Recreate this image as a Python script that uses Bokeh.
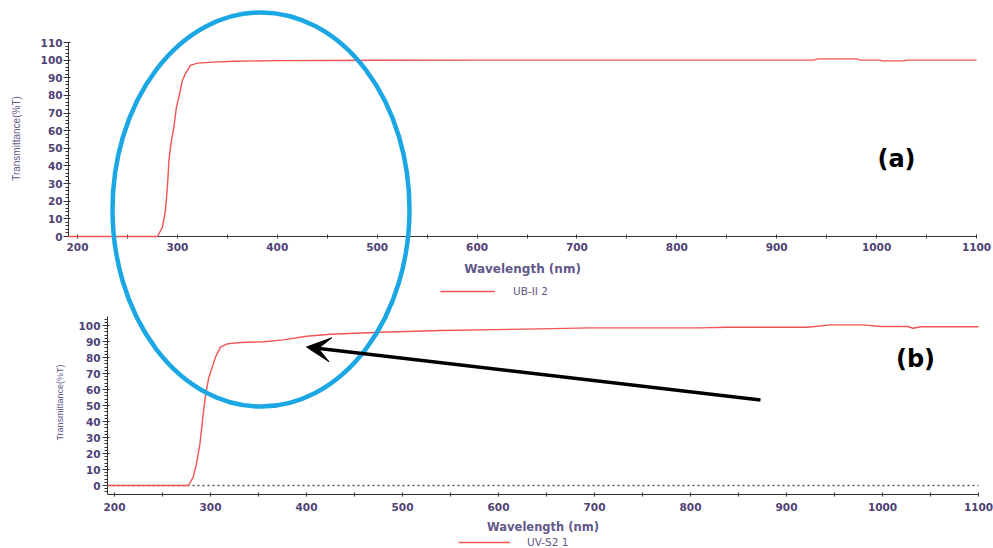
import math
from bokeh.plotting import figure
from bokeh.models import (Range1d, LinearAxis, FixedTicker, Legend, LegendItem,
                          Label, Arrow, VeeHead)
from bokeh.embed import file_html
from bokeh.resources import INLINE

# ---------------- data ----------------
series_a_name = "UB-II 2"
wavelength_a = [191, 280, 281, 285, 288, 290, 291.5, 294, 296.5, 299, 301.5, 305, 308,
                313, 320, 336, 356, 400, 450, 500, 600, 700, 800, 900, 937, 941, 980,
                984, 1003, 1006, 1027, 1030, 1100]
transmittance_a = [0, 0, 1, 5.3, 14.7, 28, 43, 54.4, 62, 73.3, 79, 88.5, 92.2,
                   97, 98.3, 98.9, 99.4, 99.7, 99.8, 99.9, 100, 100, 100, 100, 100, 100.7, 100.7,
                   100, 100, 99.6, 99.6, 100, 100]

series_b_name = "UV-S2 1"
wavelength_b = [192.7, 277, 282, 285.4, 289, 292, 295, 298.3, 301.8, 305.2, 310.4, 317.4,
                331, 355.5, 376, 400, 425, 477, 540, 643, 696, 810, 838, 922, 946, 980,
                998, 1026, 1032, 1040, 1100]
transmittance_b = [0, 0, 5.2, 13.5, 26, 42.7, 57.3, 67.7, 74, 80.2, 86.5, 88.5,
                   89.4, 89.8, 91, 93.3, 94.5, 95.8, 96.9, 97.9, 98.5, 98.5, 98.9, 98.9, 100.4, 100.4,
                   99.4, 99.4, 98.3, 99.2, 99.2]

x_major_ticks = [200, 300, 400, 500, 600, 700, 800, 900, 1000, 1100]
x_minor_ticks = [250, 350, 450, 550, 650, 750, 850, 950, 1050]
ya_major_ticks = [0, 10, 20, 30, 40, 50, 60, 70, 80, 90, 100, 110]
ya_minor_ticks = list(range(0, 111, 2))
yb_major_ticks = [0, 10, 20, 30, 40, 50, 60, 70, 80, 90, 100]
yb_minor_ticks = list(range(-4, 105, 2))
baseline_b = 0

x_title = "Wavelength (nm)"
y_title = "Transmittance(%T)"

# ---------------- layout (reference pixels) ----------------
W, H = 993, 548
PX0, PX1, PY0, PY1 = 0, W, H, 0  # canvas covers the reference picture 1:1


def rng(v0, p0, v1, p1, lo, hi):
    k = (v1 - v0) / (p1 - p0)
    return Range1d(v0 + (lo - p0) * k, v0 + (hi - p0) * k)


RED = "#f25454"
BLUE = "#1ba7e3"
TICK_COL = "#4f4275"
TITLE_COL = "#625889"
AXIS_COL = "#333333"

p = figure(width=W, height=H, output_backend="svg", toolbar_location=None, title=None,
           x_axis_type=None, y_axis_type=None, min_border=0,
           x_range=Range1d(PX0, PX1), y_range=Range1d(PY0, PY1))
p.outline_line_color = None

# panel (a): 200 nm at x=77, 1100 at 976; 0 %T at y=236, 110 at y=42
p.extra_x_ranges["xa"] = rng(200, 77, 1100, 976, PX0, PX1)
p.extra_y_ranges["ya"] = rng(0, 236, 110, 42, PY0, PY1)
# panel (b): 200 nm at x=114, 1100 at 978; 0 %T at y=485, 100 at y=325
p.extra_x_ranges["xb"] = rng(200, 114, 1100, 978, PX0, PX1)
p.extra_y_ranges["yb"] = rng(0, 485, 100, 325, PY0, PY1)

A_X0 = 191.0
B_X0 = 192.7
B_Y0 = -5.6


def style_axis(ax, is_x):
    ax.axis_line_color = AXIS_COL
    ax.major_tick_line_color = AXIS_COL
    ax.minor_tick_line_color = AXIS_COL
    ax.major_label_text_font = "DejaVu Sans"
    ax.major_label_text_font_style = "bold"
    ax.major_label_text_font_size = "10.5px"
    ax.major_label_text_color = TICK_COL
    if is_x:
        ax.major_tick_in, ax.major_tick_out = 2, 2
        ax.minor_tick_in, ax.minor_tick_out = 2, 2
    else:
        ax.major_tick_in, ax.major_tick_out = 2, 5
        ax.minor_tick_in, ax.minor_tick_out = 0, 3


ax_ax = LinearAxis(x_range_name="xa", y_range_name="ya", fixed_location=0,
                   bounds=(A_X0, 1100),
                   ticker=FixedTicker(ticks=x_major_ticks, minor_ticks=x_minor_ticks))
style_axis(ax_ax, True)
ax_ax.major_label_standoff = 4
p.add_layout(ax_ax, "below")

ay_ax = LinearAxis(x_range_name="xa", y_range_name="ya", fixed_location=A_X0,
                   bounds=(0, 110),
                   ticker=FixedTicker(ticks=ya_major_ticks, minor_ticks=ya_minor_ticks))
style_axis(ay_ax, False)
ay_ax.major_label_standoff = 1
p.add_layout(ay_ax, "left")

bx_ax = LinearAxis(x_range_name="xb", y_range_name="yb", fixed_location=B_Y0,
                   bounds=(B_X0, 1100),
                   ticker=FixedTicker(ticks=x_major_ticks, minor_ticks=x_minor_ticks))
style_axis(bx_ax, True)
bx_ax.major_label_standoff = 7
p.add_layout(bx_ax, "below")

by_ax = LinearAxis(x_range_name="xb", y_range_name="yb", fixed_location=B_X0,
                   bounds=(B_Y0, 105.8),
                   ticker=FixedTicker(ticks=yb_major_ticks, minor_ticks=yb_minor_ticks))
style_axis(by_ax, False)
by_ax.major_label_standoff = 2
p.add_layout(by_ax, "left")

# dotted baseline in panel (b)
p.line([B_X0, 1100], [baseline_b, baseline_b], x_range_name="xb", y_range_name="yb",
       line_color="#555555", line_width=1.3, line_dash="2 3")

# data lines
r_a = p.line(wavelength_a, transmittance_a, x_range_name="xa", y_range_name="ya",
             line_color=RED, line_width=1.4)
r_a.level = "annotation"
r_b = p.line(wavelength_b, transmittance_b, x_range_name="xb", y_range_name="yb",
             line_color=RED, line_width=1.4)
r_b.level = "annotation"

# axis titles
LAB_FONT = "'Liberation Sans', Arial, sans-serif"
p.add_layout(Label(x=15.5, y=138, text=y_title, angle=math.pi / 2, text_align="center",
                   text_baseline="middle", text_font=LAB_FONT, text_font_size="10px",
                   text_color=TITLE_COL))
p.add_layout(Label(x=59, y=402, text=y_title, angle=math.pi / 2, text_align="center",
                   text_baseline="middle", text_font=LAB_FONT, text_font_size="9px",
                   text_color=TITLE_COL))
p.add_layout(Label(x=(A_X0 + 1100) / 2, y=268, x_range_name="xa", text=x_title,
                   text_align="center", text_baseline="middle", text_font="DejaVu Sans",
                   text_font_style="bold", text_font_size="12px", text_color=TITLE_COL))
p.add_layout(Label(x=(B_X0 + 1100) / 2, y=526, x_range_name="xb", text=x_title,
                   text_align="center", text_baseline="middle", text_font="DejaVu Sans",
                   text_font_style="bold", text_font_size="11.5px", text_color=TITLE_COL))

# legends
def make_legend(name, r, loc, standoff, gw):
    lg = Legend(items=[LegendItem(label=name, renderers=[r])], location=loc,
                orientation="horizontal", padding=0, margin=0, spacing=0,
                glyph_width=gw, glyph_height=12, label_height=12, label_standoff=standoff,
                border_line_color=None, background_fill_alpha=0,
                label_text_font="DejaVu Sans", label_text_font_size="10.5px",
                label_text_color=TITLE_COL)
    return lg


p.add_layout(make_legend(series_a_name, r_a, (440, 251), 18, 55))
p.add_layout(make_legend(series_b_name, r_b, (458, 0), 17, 52))

# annotations: ellipse, arrow, panel letters
ell = p.ellipse(x=[260.5], y=[209], width=[297], height=[394], width_units="screen",
                height_units="screen", fill_color=None, line_color=BLUE, line_width=4.5)
ell.level = "annotation"

arr = Arrow(x_start=760, y_start=399.5, x_end=306, y_end=346.5, line_width=3.5,
            line_color="black",
            end=VeeHead(size=24, fill_color="black", line_color="black"), start=None)
arr.level = "overlay"
p.add_layout(arr)

p.add_layout(Label(x=896, y=158, text="(a)", text_align="center", text_baseline="middle",
                   text_font="DejaVu Sans", text_font_style="bold", text_font_size="24px",
                   text_color="black"))
p.add_layout(Label(x=915, y=358, text="(b)", text_align="center", text_baseline="middle",
                   text_font="DejaVu Sans", text_font_style="bold", text_font_size="24px",
                   text_color="black"))

open("out.html", "w").write(file_html(p, INLINE))
